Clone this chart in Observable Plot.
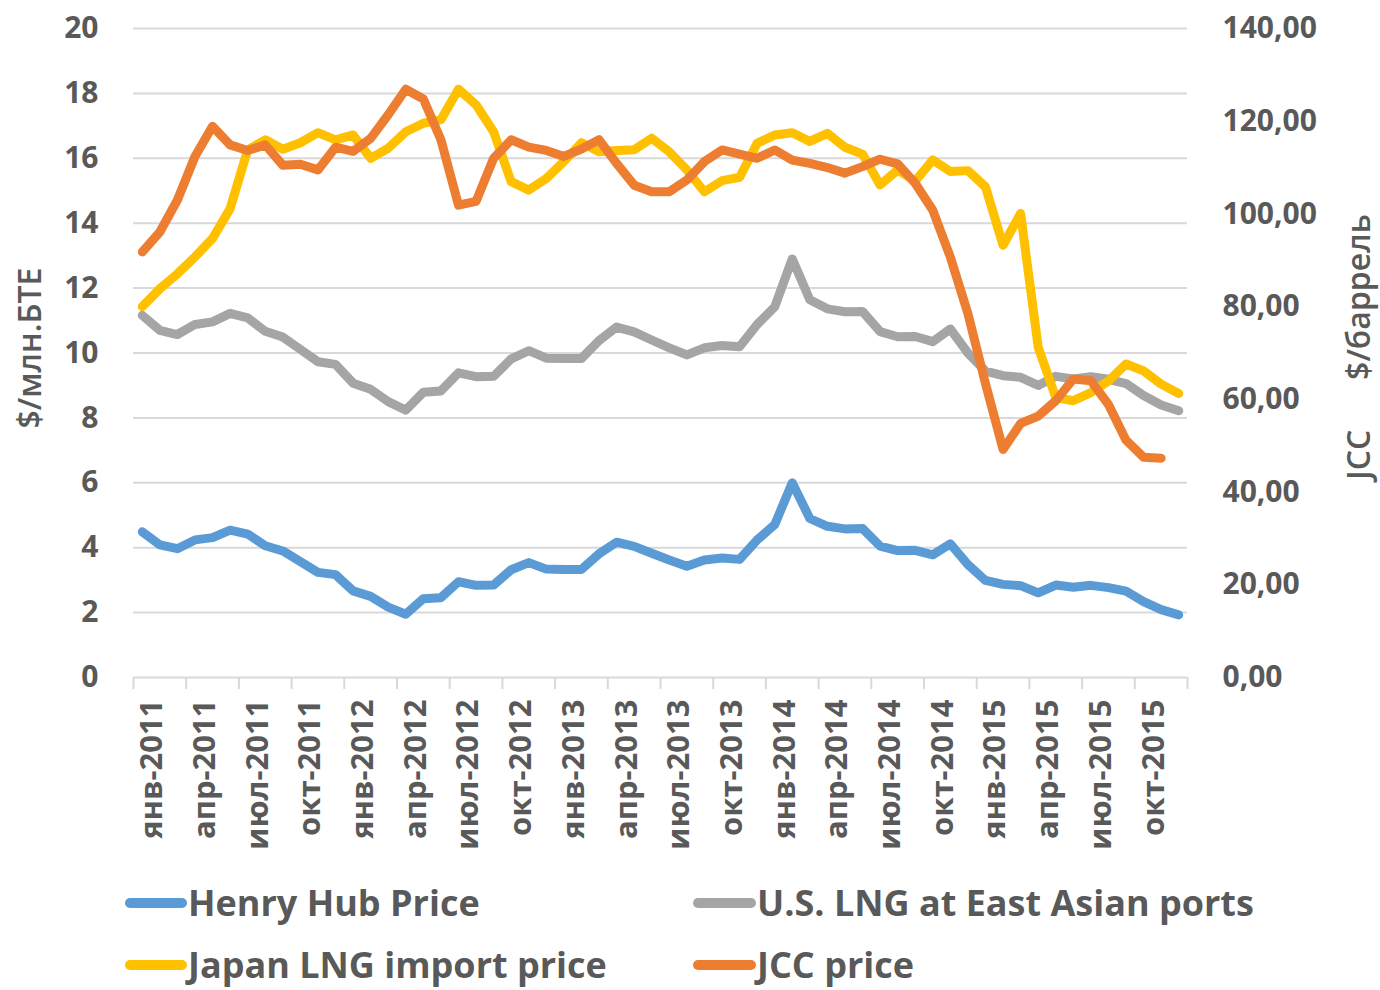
<!DOCTYPE html>
<html>
<head>
<meta charset="utf-8">
<script src="https://cdn.jsdelivr.net/npm/d3@7"></script>
<script src="https://cdn.jsdelivr.net/npm/@observablehq/plot@0.6"></script>
<style>
  html, body { margin: 0; padding: 0; background: #fff; }
  #wrap { position: relative; width: 1380px; height: 990px; overflow: hidden; font-family: "Open Sans", sans-serif; }
  .item { position: absolute; display: flex; align-items: center; height: 50px; line-height: 50px;
          font-size: 36px; font-weight: 700; color: #595959; white-space: nowrap; }
  .sw { height: 10px; border-radius: 5px; margin-right: 1px; }
</style>
</head>
<body>
<div id="wrap"><div id="chart"></div></div>
<script>
// ---- data ----
const monthNames = ["янв","фев","мар","апр","май","июн","июл","авг","сен","окт","ноя","дек"];
const years = [2011, 2012, 2013, 2014, 2015];

const henryHub = [4.49,4.09,3.97,4.24,4.31,4.54,4.42,4.06,3.90,3.57,3.24,3.17,
  2.67,2.50,2.17,1.95,2.43,2.46,2.95,2.84,2.85,3.32,3.54,3.34,
  3.33,3.33,3.81,4.17,4.04,3.83,3.62,3.43,3.62,3.68,3.64,4.24,
  4.71,6.00,4.90,4.66,4.58,4.59,4.05,3.91,3.92,3.78,4.12,3.48,
  2.99,2.87,2.83,2.61,2.85,2.78,2.84,2.77,2.66,2.34,2.09,1.93];

const usLngAsia = [11.16,10.70,10.57,10.88,10.96,11.22,11.08,10.67,10.49,10.11,9.73,9.65,
  9.07,8.88,8.50,8.24,8.79,8.83,9.39,9.27,9.28,9.82,10.07,9.84,
  9.83,9.83,10.38,10.80,10.65,10.40,10.16,9.94,10.16,10.23,10.19,10.88,
  11.42,12.90,11.64,11.36,11.27,11.28,10.66,10.50,10.51,10.35,10.74,10.00,
  9.44,9.30,9.25,9.00,9.28,9.20,9.27,9.19,9.06,8.69,8.40,8.22];

const japanLng = [11.43,11.98,12.44,12.96,13.53,14.45,16.26,16.57,16.28,16.48,16.79,16.57,
  16.72,16.00,16.31,16.82,17.08,17.19,18.13,17.65,16.82,15.28,15.02,15.38,
  15.90,16.48,16.20,16.24,16.26,16.62,16.20,15.64,14.97,15.31,15.41,16.46,
  16.72,16.79,16.52,16.77,16.34,16.13,15.18,15.64,15.30,15.95,15.59,15.62,
  15.12,13.32,14.30,10.18,8.63,8.53,8.78,9.14,9.66,9.45,9.04,8.75];

const jcc = [91.8,96.1,103.0,112.4,118.9,114.9,113.7,114.9,110.5,110.7,109.5,114.4,
  113.5,116.3,121.4,126.9,124.8,116.0,101.9,102.7,112.0,116.0,114.4,113.7,
  112.4,114.0,116.0,110.9,106.2,104.8,104.8,107.3,111.3,113.8,112.9,112.0,
  113.8,111.6,110.9,110.0,108.8,110.2,111.8,110.8,106.6,100.8,90.7,78.5,
  63.4,49.2,54.8,56.4,59.7,64.4,64.0,58.9,51.2,47.5,47.3];

const leftTicks = [0,2,4,6,8,10,12,14,16,18,20];
const rightTicks = [0,20,40,60,80,100,120,140];
const seriesNames = ["Henry Hub Price","U.S. LNG at East Asian ports","Japan LNG import price","JCC price"];
const seriesColors = ["#5B9BD5","#A5A5A5","#FFC000","#ED7D31"];
const leftTitle = "$/млн.БТЕ";
const rightTitle = "JCC\u00a0\u00a0\u00a0\u00a0\u00a0\u00a0$/баррель";

// ---- derived ----
const months = years.flatMap(y => monthNames.map(m => `${m}-${y}`));
const labelIdx = d3.range(0, months.length, 3);
const boundaries = d3.range(0, months.length + 1, 3).map(i => i - 0.5);
const ratio = 140 / 20; // right axis units per left axis unit
const fmtRight = v => (Math.round(v * 100) / 100).toFixed(2).replace(".", ",");

const lineOpts = {strokeWidth: 9, strokeLinecap: "round", strokeLinejoin: "round"};
const tickText = {fontSize: 30, fontWeight: 700, fill: "#595959", tickSize: 0};

const chart = Plot.plot({
  width: 1380,
  height: 870,
  marginLeft: 133,
  marginRight: 193,
  marginTop: 28,
  marginBottom: 193,
  style: {fontFamily: "Open Sans", color: "#595959", background: "#fff"},
  x: {type: "linear", domain: [-0.5, months.length - 0.5]},
  y: {domain: [0, 20]},
  marks: [
    Plot.gridY(leftTicks, {stroke: "#D9D9D9", strokeOpacity: 1, strokeWidth: 2}),
    Plot.axisY(leftTicks, {anchor: "left", tickPadding: 35, label: null, ...tickText}),
    Plot.axisY(rightTicks.map(v => v / ratio), {anchor: "right", tickPadding: 35, label: null,
      tickFormat: v => fmtRight(v * ratio), ...tickText}),
    Plot.axisX(boundaries, {anchor: "bottom", tickSize: 12, stroke: "#D9D9D9", strokeWidth: 2,
      tickFormat: () => "", label: null}),
    Plot.axisX(labelIdx, {anchor: "bottom", tickPadding: 22, rotate: -90, textAnchor: "end",
      lineAnchor: "middle", dx: 10, tickFormat: i => months[i], label: null, ...tickText, fontSize: 31}),
    Plot.text([leftTitle], {frameAnchor: "left", rotate: -90, dx: -103, dy: -5, fontSize: 32,
      fontWeight: 600, fill: "#595959", textAnchor: "middle", lineAnchor: "middle"}),
    Plot.text([rightTitle], {frameAnchor: "right", rotate: -90, dx: 172, dy: -6, fontSize: 32,
      fontWeight: 600, fill: "#595959", textAnchor: "middle", lineAnchor: "middle"}),
    Plot.lineY(henryHub, {y: d => d, stroke: seriesColors[0], ...lineOpts}),
    Plot.lineY(usLngAsia, {y: d => d, stroke: seriesColors[1], ...lineOpts}),
    Plot.lineY(japanLng, {y: d => d, stroke: seriesColors[2], ...lineOpts}),
    Plot.lineY(jcc, {y: d => d / ratio, stroke: seriesColors[3], ...lineOpts})
  ]
});
document.getElementById("chart").appendChild(chart);

// ---- legend (below the SVG) ----
const legendPos = [
  {left: 125, top: 878, sw: 62},
  {left: 693, top: 878, sw: 63},
  {left: 125, top: 940, sw: 62},
  {left: 693, top: 940, sw: 63}
];
const legendOrder = [0, 1, 2, 3];
const wrap = document.getElementById("wrap");
legendOrder.forEach((s, k) => {
  const p = legendPos[k];
  const el = document.createElement("div");
  el.className = "item";
  el.style.left = p.left + "px";
  el.style.top = p.top + "px";
  const sw = document.createElement("span");
  sw.className = "sw";
  sw.style.width = p.sw + "px";
  sw.style.background = seriesColors[s];
  el.appendChild(sw);
  el.appendChild(document.createTextNode(seriesNames[s]));
  wrap.appendChild(el);
});
</script>
</body>
</html>
